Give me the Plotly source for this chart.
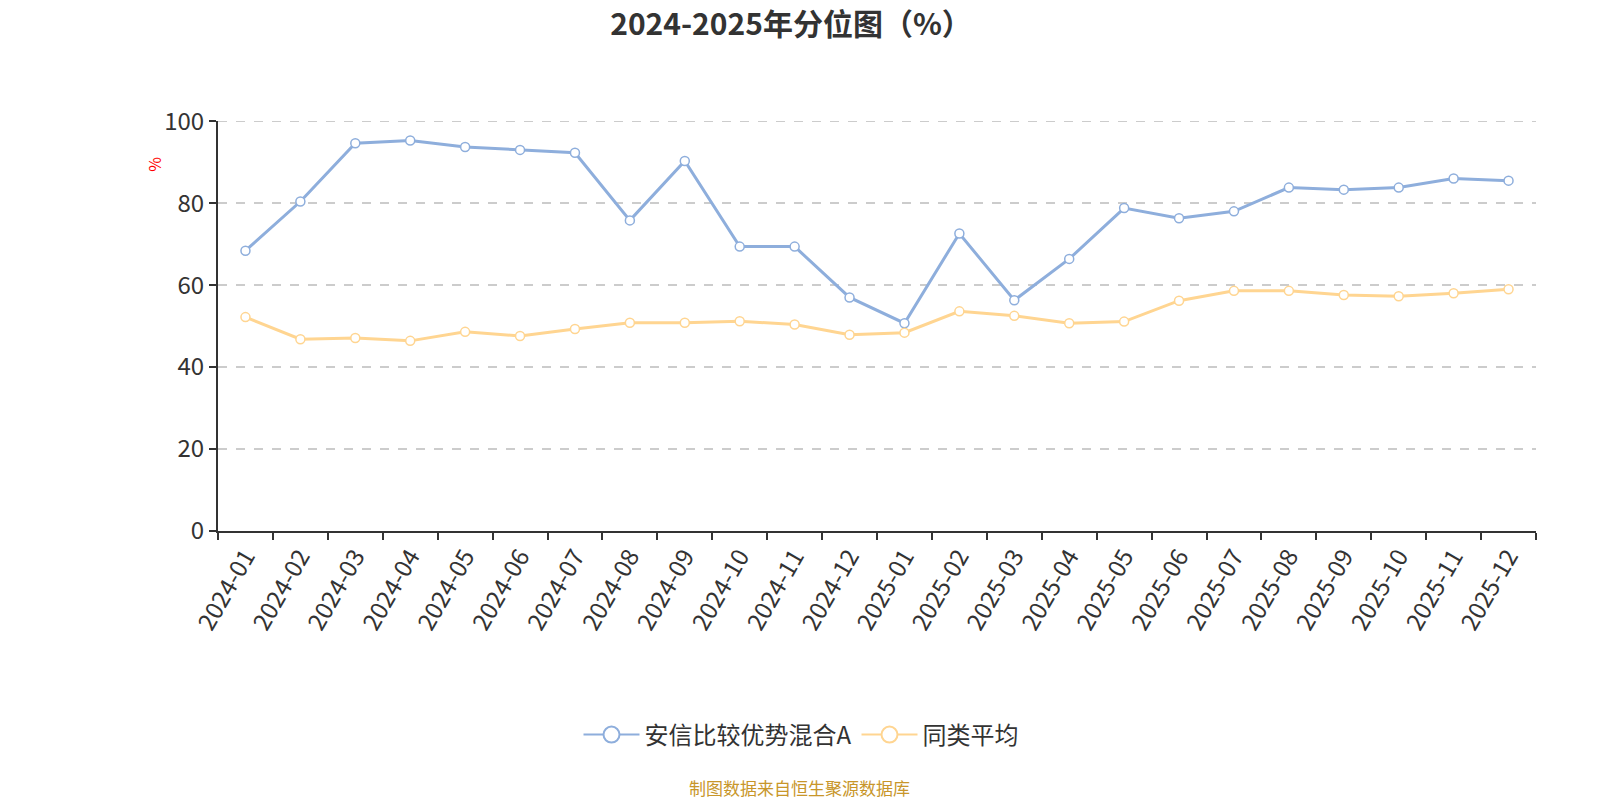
import plotly.graph_objects as go

categories = ["2024-01", "2024-02", "2024-03", "2024-04", "2024-05", "2024-06",
              "2024-07", "2024-08", "2024-09", "2024-10", "2024-11", "2024-12",
              "2025-01", "2025-02", "2025-03", "2025-04", "2025-05", "2025-06",
              "2025-07", "2025-08", "2025-09", "2025-10", "2025-11", "2025-12"]
fund_values = [68.4, 80.4, 94.6, 95.3, 93.7, 93.0, 92.3, 75.8, 90.3, 69.4, 69.4, 57.0,
               50.7, 72.6, 56.3, 66.4, 78.8, 76.3, 78.0, 83.8, 83.3, 83.8, 86.0, 85.5]
avg_values = [52.2, 46.8, 47.1, 46.4, 48.6, 47.6, 49.3, 50.8, 50.8, 51.2, 50.4, 47.9,
              48.4, 53.6, 52.5, 50.7, 51.1, 56.2, 58.6, 58.6, 57.6, 57.3, 58.0, 59.0]
fund_name = "安信比较优势混合A"
avg_name = "同类平均"
y_ticks = [0, 20, 40, 60, 80, 100]

BLUE = "#8eaedc"
ORANGE = "#ffd591"
FONT = "Noto Sans CJK SC"

fig = go.Figure()
for name, vals, col in [(fund_name, fund_values, BLUE), (avg_name, avg_values, ORANGE)]:
    fig.add_trace(go.Scatter(
        x=categories, y=vals, mode="lines+markers", name=name, showlegend=False,
        line=dict(color=col, width=3),
        marker=dict(size=9, color="white", line=dict(color=col, width=1.5)),
        cliponaxis=False,
    ))
    fig.add_trace(go.Scatter(
        x=[None], y=[None], mode="lines+markers", name=name, showlegend=True,
        line=dict(color=col, width=2),
        marker=dict(size=16, color="white", line=dict(color=col, width=2)),
    ))

fig.update_layout(
    width=1600, height=800,
    margin=dict(l=218, r=64, t=121, b=269),
    paper_bgcolor="white", plot_bgcolor="white",
    font=dict(family=FONT, color="#333333"),
    title=dict(text="<b>2024-2025年分位图（%）</b>", x=791 / 1600,
               xanchor="center",
               yref="container", y=1 - 24 / 800, yanchor="middle",
               font=dict(size=30, color="#333333", family=FONT)),
    legend=dict(orientation="h", x=(801 - 218) / 1318, xanchor="center", yref="container",
                y=1 - 735 / 800, yanchor="middle",
                font=dict(size=24, color="#333333", family=FONT),
                itemwidth=56, tracegroupgap=0),
    showlegend=True,
)
fig.update_xaxes(
    type="category", categoryorder="array", categoryarray=categories,
    range=[-0.5, len(categories) - 0.5],
    showline=True, linecolor="#333333", linewidth=2,
    ticks="outside", ticklen=7, tickcolor="#333333", tickwidth=2,
    tickson="boundaries", tickangle=-60,
    tickfont=dict(size=24, color="#333333", family=FONT),
    showgrid=False, zeroline=False,
)
fig.update_yaxes(
    range=[0, 100.05], tickvals=y_ticks,
    showline=True, linecolor="#333333", linewidth=2,
    ticks="outside", ticklen=7, tickcolor="#333333", tickwidth=2,
    tickfont=dict(size=24, color="#333333", family=FONT),
    showgrid=True, gridcolor="#cccccc", griddash="dash", gridwidth=1.5,
    zeroline=False,
)
# top gridline (Plotly hides the grid line at the plot edge)
fig.add_shape(type="line", xref="paper", yref="y", x0=0, x1=1,
              y0=y_ticks[-1], y1=y_ticks[-1], layer="below",
              line=dict(color="#cccccc", width=1.5, dash="dash"))
fig.add_annotation(text="%", xref="paper", yref="paper", x=(140 - 218) / 1318,
                   y=(530.7 - 155) / 410, showarrow=False, textangle=-90,
                   font=dict(size=16, color="red", family=FONT))
fig.add_annotation(text="制图数据来自恒生聚源数据库", xref="paper", yref="paper",
                   x=(799 - 218) / 1318, y=(530.7 - 787) / 410,
                   xanchor="center", yanchor="middle", showarrow=False,
                   font=dict(size=17, color="#c8962a", family=FONT))

fig.write_html("out.html")
